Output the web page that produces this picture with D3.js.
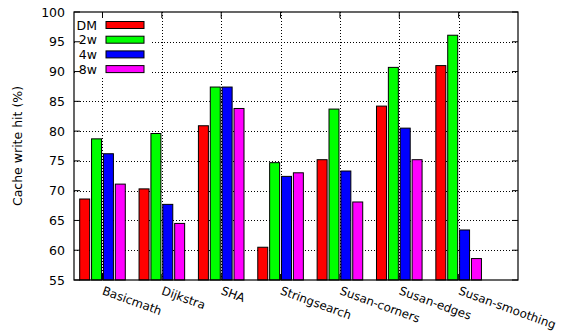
<!DOCTYPE html>
<html><head><meta charset="utf-8">
<script src="https://cdn.jsdelivr.net/npm/d3@7"></script>
<style>body{margin:0;background:#fff}svg{display:block;font-family:"DejaVu Sans",sans-serif}</style>
</head><body><svg id="c" width="562" height="334"></svg>
<script>
const categories = ["Basicmath","Dijkstra","SHA","Stringsearch","Susan-corners","Susan-edges","Susan-smoothing"];
const seriesNames = ["DM","2w","4w","8w"];
const seriesColors = ["#ff0000","#00ff00","#0000ff","#ff00ff"];
const dmValues = [68.6, 70.3, 80.9, 60.5, 75.2, 84.2, 91.0];
const w2Values = [78.7, 79.6, 87.4, 74.7, 83.7, 90.7, 96.1];
const w4Values = [76.2, 67.7, 87.4, 72.4, 73.3, 80.5, 63.4];
const w8Values = [71.1, 64.5, 83.8, 73.0, 68.1, 75.2, 58.6];
const yTicks = [55,60,65,70,75,80,85,90,95,100];
const series = [dmValues, w2Values, w4Values, w8Values];

const FS = 12.5;
const svg = d3.select("#c");
const L=74, R=518, T=12, B=280;
const x = d3.scaleLinear().domain([-0.48, 7]).range([L, R]);
const y = d3.scaleLinear().domain([55, 100]).range([B, T]);

// grid
const g = svg.append("g");
g.selectAll("line.hg").data(yTicks.filter(d=>d>55&&d<100)).enter().append("line")
  .attr("x1",L).attr("x2",R).attr("y1",d=>Math.round(y(d))+0.5).attr("y2",d=>Math.round(y(d))+0.5)
  .attr("stroke","#000").attr("stroke-width",1).attr("stroke-dasharray","1,2");
g.selectAll("line.vg").data(categories).enter().append("line")
  .attr("x1",(d,i)=>Math.round(x(i))+0.5).attr("x2",(d,i)=>Math.round(x(i))+0.5).attr("y1",T).attr("y2",B)
  .attr("stroke","#000").attr("stroke-width",1).attr("stroke-dasharray","1,2");

// legend background
svg.append("rect").attr("x",L+1).attr("y",T+1).attr("width",77).attr("height",64).attr("fill","#fff");

// bars
const bw = 0.168;
series.forEach((vals,j)=>{
  svg.append("g").selectAll("rect").data(vals).enter().append("rect")
    .attr("x",(d,i)=>x(i+(j-1.5)*0.2-bw/2))
    .attr("width",x(bw)-x(0))
    .attr("y",d=>y(d))
    .attr("height",d=>y(55)-y(d))
    .attr("fill",seriesColors[j]).attr("stroke","#000").attr("stroke-width",1);
});

// frame
svg.append("rect").attr("x",L).attr("y",T).attr("width",R-L).attr("height",B-T)
  .attr("fill","none").attr("stroke","#000").attr("stroke-width",1.2);

// ticks
const tk = svg.append("g");
yTicks.forEach(v=>{
  tk.append("line").attr("x1",L).attr("x2",L+6).attr("y1",y(v)).attr("y2",y(v)).attr("stroke","#000");
  tk.append("line").attr("x1",R-6).attr("x2",R).attr("y1",y(v)).attr("y2",y(v)).attr("stroke","#000");
  tk.append("text").attr("x",L-9).attr("y",y(v)).attr("dy","0.36em").attr("text-anchor","end")
    .attr("font-size",FS).text(v);
});
categories.forEach((c,i)=>{
  tk.append("line").attr("x1",x(i)).attr("x2",x(i)).attr("y1",B).attr("y2",B-6).attr("stroke","#000");
  tk.append("line").attr("x1",x(i)).attr("x2",x(i)).attr("y1",T).attr("y2",T+6).attr("stroke","#000");
  tk.append("text").attr("transform",`translate(${x(i)-1},${B+14}) rotate(20)`)
    .attr("font-size",11.8).text(c);
});

// legend
seriesNames.forEach((n,j)=>{
  const cy = 25 + j*14.7;
  svg.append("text").attr("x",97).attr("y",cy).attr("dy","0.36em").attr("text-anchor","end").attr("font-size",FS).text(n);
  svg.append("rect").attr("x",106).attr("y",cy-3.5).attr("width",38).attr("height",7)
    .attr("fill",seriesColors[j]).attr("stroke","#000").attr("stroke-width",1);
});

// y label
svg.append("text").attr("transform",`translate(22,${(T+B)/2}) rotate(-90)`).attr("text-anchor","middle")
  .attr("font-size",FS).text("Cache write hit (%)");
</script></body></html>
